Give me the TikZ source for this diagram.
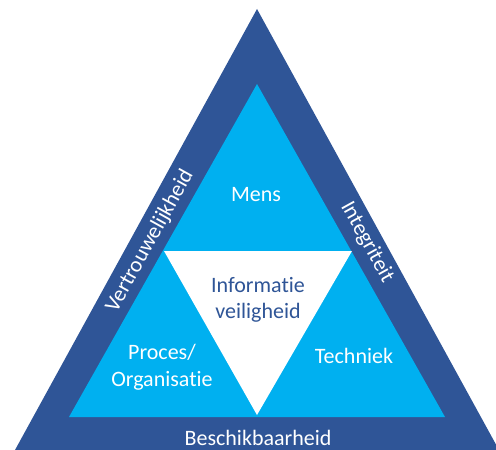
\documentclass[tikz,border=0pt]{standalone}
\usepackage{fontspec}
\setmainfont{Carlito}[Ligatures=NoCommon]
\definecolor{darkband}{HTML}{2F5597}
\definecolor{lightblue}{HTML}{00B0F0}
\begin{document}
\begin{tikzpicture}[x=1bp,y=-1bp,
  lbl/.style={text=white,font=\fontsize{22bp}{26.5bp}\selectfont,align=center,inner sep=0pt},
  centerlbl/.style={text=darkband,font=\fontsize{22bp}{26.5bp}\selectfont,align=center,inner sep=0pt}]
\useasboundingbox (0,0) rectangle (496,450);
\begin{scope}
\clip (0,0) rectangle (496,450);
\fill[darkband] (257,9) -- (499,450) -- (15,450) -- cycle;
\end{scope}
\fill[lightblue] (257,84) -- (445,417) -- (69,417) -- cycle;
\fill[white] (164,251) -- (352,251) -- (257,415) -- cycle;
\node[lbl] (mens) at (256,195) {Mens};
\node[centerlbl] (info) at (258,300) {Informatie\\veiligheid};
\node[lbl] (proces) at (162,367) {Proces/\\Organisatie};
\node[lbl] (tech) at (354,356) {Techniek};
\node[lbl] (besch) at (258,438) {Beschikbaarheid};
\node[lbl,rotate=61] (vert) at (150,241) {Vertrouwelijkheid};
\node[lbl,rotate=-61] (integ) at (367,242) {Integriteit};
\end{tikzpicture}
\end{document}
